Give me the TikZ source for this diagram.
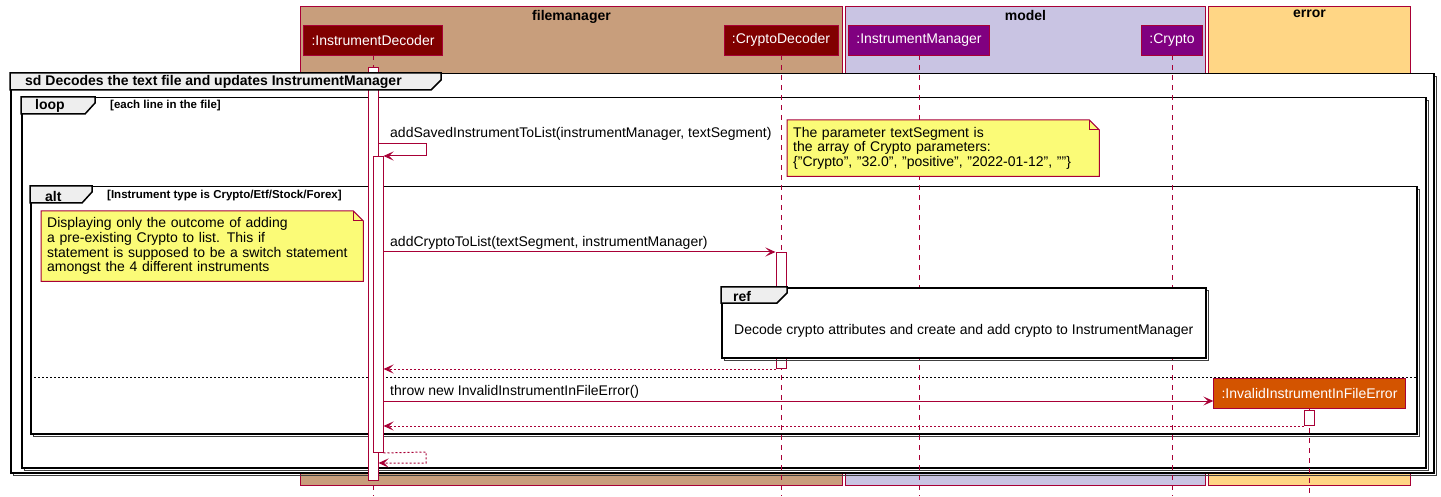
\documentclass[tikz,border=0pt]{standalone}
\usepackage{fontspec}
\setmainfont{Liberation Sans}
\usetikzlibrary{arrows.meta, positioning, calc}
\definecolor{cLine}{RGB}{168,0,54}
\definecolor{cFile}{RGB}{200,158,124}
\definecolor{cModel}{RGB}{201,196,227}
\definecolor{cError}{RGB}{255,214,133}
\definecolor{cDecoder}{RGB}{128,0,0}
\definecolor{cManager}{RGB}{128,0,128}
\definecolor{cThrow}{RGB}{211,84,0}
\definecolor{cNote}{RGB}{251,251,119}
\definecolor{cTab}{RGB}{238,238,238}
\tikzset{
	grpbox/.style   ={rectangle, draw=cLine, line width=1pt, anchor=north west, inner sep=0pt},
	grptitle/.style ={font=\fontsize{14}{16}\selectfont\bfseries, inner sep=4pt, anchor=north},
	part/.style     ={rectangle, draw=cLine, line width=0.5pt, text=white, minimum height=30pt, inner xsep=8pt, inner ysep=0pt},
	lifeline/.style ={draw=cLine, line width=0.8pt, dash pattern=on 5pt off 5pt},
	actbar/.style   ={rectangle, draw=cLine, line width=1pt, fill=white, minimum width=10pt, inner sep=0pt, anchor=north},
	% interaction frames
	frm/.style      ={rectangle, draw=black, line width=1.5pt, fill=white, anchor=north west, inner sep=0pt,
	                  preaction={draw=black!75, line width=1pt, fill=none, transform canvas={shift={(2.5pt,-2.5pt)}}}},
	tabshape/.style ={draw=black, line width=1.5pt, fill=cTab},
	tabtxt/.style   ={font=\fontsize{14}{16}\selectfont\bfseries, inner sep=0pt, anchor=west},
	guardtxt/.style ={font=\fontsize{11.5}{13}\selectfont\bfseries, inner sep=0pt, anchor=west},
	sepline/.style  ={draw=black, line width=1pt, dash pattern=on 2pt off 2pt},
	% messages
	msg/.style      ={draw=cLine, line width=1pt, -{Stealth[length=10pt, width=9pt, inset=4.5pt]}},
	reply/.style    ={msg, dash pattern=on 2pt off 2pt},
	msgtxt/.style   ={inner sep=0pt, anchor=base west},
	% notes
	notebox/.style  ={rectangle, fill=cNote, inner xsep=6pt, inner ysep=0pt, anchor=north west, align=left},
	notefold/.style ={draw=cLine, line width=1pt},
}

\begin{document}
\begin{tikzpicture}[x=1pt, y=-1pt, font=\fontsize{14}{14.7}\selectfont]
	\useasboundingbox (0,0) rectangle (1441,497);
	\coordinate (bot) at (0,496);
	% package boxes
	\node[grpbox, fill=cFile, minimum width=542pt, minimum height=479pt] (fmbox) at (300,6) {};
	\node[grpbox, fill=cModel, minimum width=360pt, minimum height=479pt] (mdbox) at (845,6) {};
	\node[grpbox, fill=cError, minimum width=202pt, minimum height=479pt] (erbox) at (1208,6) {};
	\node[grptitle] at (fmbox.north) {filemanager};
	\node[grptitle] at (mdbox.north) {model};
	\node[grptitle] at (erbox.north) {error};
	% participants
	\node[part, fill=cDecoder] (idec) at (373,40) {:InstrumentDecoder};
	\node[part, fill=cDecoder] (cdec) at (781,40) {:CryptoDecoder};
	\node[part, fill=cManager] (imgr) at (919,40) {:InstrumentManager};
	\node[part, fill=cManager] (crypto) at (1172,40) {:Crypto};
	% frames
	\node[frm, minimum width=1423pt, minimum height=399pt] (sd) at (10,73) {};
	\node[frm, minimum width=1404pt, minimum height=370pt] (loop) at (21,97) {};
	\node[frm, minimum width=1386pt, minimum height=247pt] (alt) at (30,186) {};
	\coordinate (sep) at (0,377);
	\draw[sepline] (alt.west |- sep) -- (alt.east |- sep);
	% lifelines
	\draw[lifeline] (idec.south) -- (idec.south |- bot);
	\draw[lifeline] (cdec.south) -- (cdec.south |- bot);
	\draw[lifeline] (imgr.south) -- (imgr.south |- bot);
	\draw[lifeline] (crypto.south) -- (crypto.south |- bot);
	% activations
	\node[actbar, minimum height=413pt] (act1) at (373,67) {};
	\node[actbar, minimum height=296pt] (act2) at (378,156) {};
	\node[actbar, minimum height=116pt] (act3) at (781,252) {};
	% frame tabs
	\draw[tabshape] (sd.north west) -- ++(431,0) -- ++(0,7) -- ++(-10,10) -- ++(-421,0) -- cycle;
	\node[tabtxt] at ($(sd.north west)+(15,9)$) {sd Decodes the text file and updates InstrumentManager};
	\draw[tabshape] (loop.north west) -- ++(74,0) -- ++(0,6) -- ++(-10,11) -- ++(-64,0) -- cycle;
	\node[tabtxt] at ($(loop.north west)+(14,9)$) {loop};
	\node[guardtxt] at ($(loop.north west)+(89,9)$) {[each line in the file]};
	\draw[tabshape] (alt.north west) -- ++(62,0) -- ++(0,6) -- ++(-10,11) -- ++(-52,0) -- cycle;
	\node[tabtxt] at ($(alt.north west)+(15,10)$) {alt};
	\node[guardtxt] at ($(alt.north west)+(77,10)$) {[Instrument type is Crypto/Etf/Stock/Forex]};
	% self call
	\coordinate (s1) at (426,144);
	\draw[msg] (act1.east |- s1) -- (s1) |- (act2.north east);
	\node[msgtxt] (t1) at (390,138) {addSavedInstrumentToList(instrumentManager, textSegment)};
	% notes
	\node[notebox, text width=300pt, minimum height=56pt] (note2) at (787,120) {The parameter textSegment is\\the array of Crypto parameters:\\\{"Crypto", "32.0", "positive", "2022-01-12", ""\}};
	\fill[white] ($(note2.north east)+(-10,0)$) -- (note2.north east) -- ($(note2.north east)+(0,10)$) -- cycle;
	\draw[notefold] (note2.north west) -- ($(note2.north east)+(-10,0)$) -- ($(note2.north east)+(0,10)$) -- (note2.south east) -- (note2.south west) -- cycle;
	\draw[notefold] ($(note2.north east)+(-10,0)$) |- ($(note2.north east)+(0,10)$);
	\node[notebox, text width=310pt, minimum height=70pt] (note1) at (41,211) {Displaying only the outcome of adding\\a pre-existing Crypto to list. This if\\statement is supposed to be a switch statement\\amongst the 4 different instruments};
	\fill[white] ($(note1.north east)+(-10,0)$) -- (note1.north east) -- ($(note1.north east)+(0,10)$) -- cycle;
	\draw[notefold] (note1.north west) -- ($(note1.north east)+(-10,0)$) -- ($(note1.north east)+(0,10)$) -- (note1.south east) -- (note1.south west) -- cycle;
	\draw[notefold] ($(note1.north east)+(-10,0)$) |- ($(note1.north east)+(0,10)$);
	% decode crypto
	\draw[msg] (act2.east |- act3.north) -- (act3.north west);
	\node[msgtxt] (t2) at (390,247) {addCryptoToList(textSegment, instrumentManager)};
	\node[frm, minimum width=484pt, minimum height=70pt] (ref) at (721,287) {};
	\draw[tabshape] (ref.north west) -- ++(66,0) -- ++(0,6) -- ++(-10,10) -- ++(-56,0) -- cycle;
	\node[tabtxt] at ($(ref.north west)+(12,9)$) {ref};
	\node[inner sep=0pt] (refdesc) at ($(ref.center)+(0,8)$) {Decode crypto attributes and create and add crypto to InstrumentManager};
	\draw[reply] (act3.south west) -- (act2.east |- act3.south);
	% invalid instrument
	\node[part, fill=cThrow] (err) at (1309.5,393) {:InvalidInstrumentInFileError};
	\draw[lifeline] (err.south) -- (err.south |- bot);
	\node[actbar, minimum height=15pt] (act4) at (1309,410) {};
	\coordinate (m6) at (0,401);
	\draw[msg] (act2.east |- m6) -- (err.west |- m6);
	\node[msgtxt] (t3) at (390,395) {throw new InvalidInstrumentInFileError()};
	\draw[reply] (act4.south west) -- (act2.east |- act4.south);
	% return of the self call
	\coordinate (s2) at (426,452);
	\coordinate (s3) at (426,463);
	\draw[reply] (act2.south east) -- (s2) -- (s3) -- (act1.east |- s3);
\end{tikzpicture}
\end{document}
